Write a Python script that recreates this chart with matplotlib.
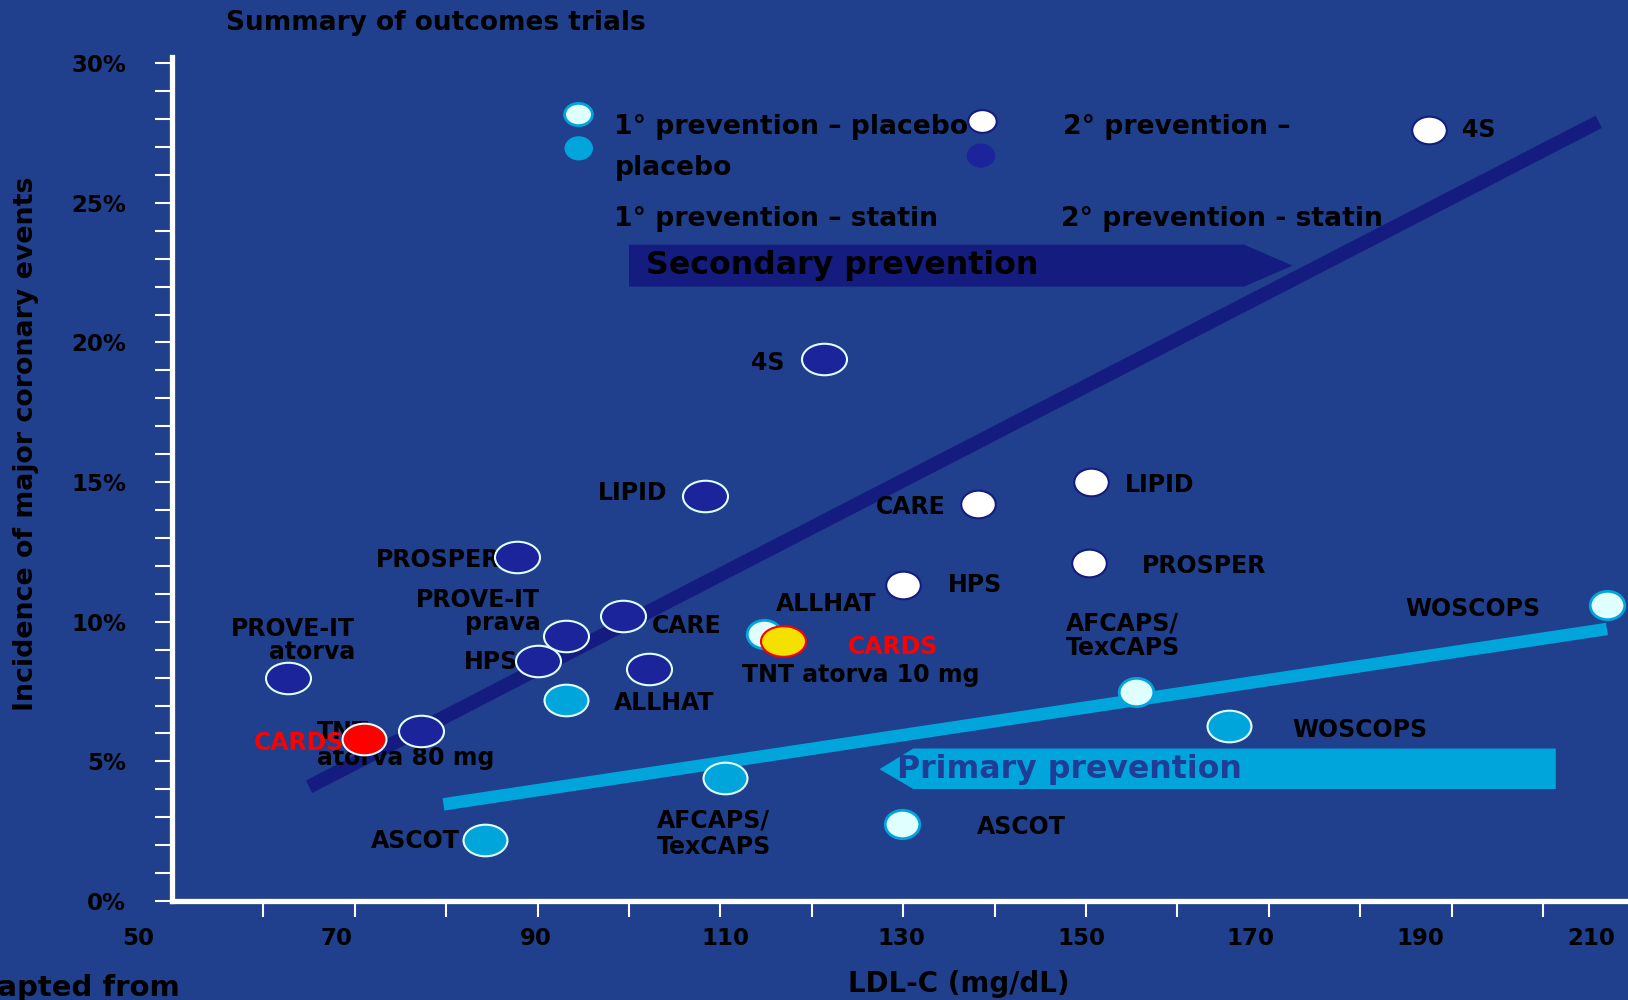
import matplotlib
matplotlib.use("Agg")
import matplotlib.pyplot as plt
from matplotlib.path import Path
from matplotlib.patches import Polygon
from matplotlib.transforms import Affine2D

# LDL-C (mg/dL) and incidence of major coronary events (%)
sec_statin_names = ["4S", "LIPID", "PROSPER", "CARE", "HPS", "PROVE-IT prava",
                    "TNT atorva 10 mg", "PROVE-IT atorva", "TNT atorva 80 mg"]
sec_statin_ldl = [121.3, 108.3, 87.7, 99.3, 90.0, 93.1, 102.2, 62.7, 77.2]
sec_statin_evt = [19.4, 14.5, 12.3, 10.2, 8.6, 9.5, 8.3, 8.0, 6.1]

sec_placebo_names = ["4S", "LIPID", "CARE", "HPS", "PROSPER"]
sec_placebo_ldl = [187.5, 150.6, 138.2, 130.0, 150.3]
sec_placebo_evt = [27.6, 15.0, 14.2, 11.3, 12.1]

pri_placebo_names = ["WOSCOPS", "AFCAPS/TexCAPS", "ASCOT", "ALLHAT"]
pri_placebo_ldl = [207.0, 155.5, 129.9, 114.8]
pri_placebo_evt = [10.6, 7.5, 2.75, 9.55]

pri_statin_names = ["WOSCOPS", "AFCAPS/TexCAPS", "ASCOT", "ALLHAT"]
pri_statin_ldl = [165.6, 110.5, 84.2, 93.1]
pri_statin_evt = [6.25, 4.4, 2.2, 7.2]

cards_names = ["CARDS placebo", "CARDS statin"]
cards_ldl = [116.9, 71.0]
cards_evt = [9.3, 5.8]

# fitted trend lines (end points)
sec_line_ldl = [65.0, 206.1]
sec_line_evt = [4.09, 27.9]
pri_line_ldl = [79.7, 207.0]
pri_line_evt = [3.46, 9.74]

x_ticks = [60, 70, 80, 90, 100, 110, 120, 130, 140, 150, 160, 170, 180, 190, 200]
x_tick_labels = ["50", "70", "90", "110", "130", "150", "170", "190", "210"]
y_ticks = [0, 5, 10, 15, 20, 25, 30]
y_tick_labels = ["0%", "5%", "10%", "15%", "20%", "25%", "30%"]

BG = "#203f8c"
NAVY = "#141c7f"
DARK = "#1b249b"
CYAN = "#00a5dc"
LIGHT = "#e0ffff"

fig = plt.figure(figsize=(16.28, 10), dpi=100, facecolor=BG)
ax = fig.add_axes([0.10565, 0.099, 0.89435, 0.844])
ax.set_facecolor(BG)
ax.set_xlim(50, 209.3)
ax.set_ylim(0, 30.22)

for s in ["top", "right"]:
    ax.spines[s].set_visible(False)
for s in ["left", "bottom"]:
    ax.spines[s].set_color("white")
    ax.spines[s].set_linewidth(3.8)

ax.set_xticks(x_ticks)
ax.set_xticklabels([])
ax.tick_params(axis="x", length=11.5, width=1.5, color="white", direction="out")
ax.set_yticks(y_ticks)
ax.set_yticklabels(y_tick_labels, fontsize=16.5, fontweight="bold")
ax.set_yticks(range(0, 31), minor=True)
ax.tick_params(axis="y", which="both", length=12, width=1.5, color="white",
               direction="out", pad=21)

lab_x = [46.3, 68.0, 89.8, 110.5, 129.8, 149.5, 168.0, 186.6, 205.3]
for xl, t in zip(lab_x, x_tick_labels):
    ax.text(xl, -1.35, t, ha="center", va="center", fontsize=16.5,
            fontweight="bold", clip_on=False)

# trend lines
ax.plot(sec_line_ldl, sec_line_evt, color=NAVY, lw=10, solid_capstyle="butt", zorder=2)
ax.plot(pri_line_ldl, pri_line_evt, color=CYAN, lw=9, solid_capstyle="butt", zorder=2)

# arrows
ax.add_patch(Polygon([(100.0, 23.5), (167.3, 23.5), (172.6, 22.75), (167.3, 22.0),
                      (100.0, 22.0)], closed=True, fc=NAVY, ec="none", zorder=1))
ax.text(101.9, 22.75, "Secondary prevention", fontsize=22.8, fontweight="bold",
        color="black", va="center", ha="left", zorder=3)
ax.add_patch(Polygon([(127.4, 4.72), (131.1, 5.46), (201.4, 5.46), (201.4, 4.01),
                      (131.1, 4.01)], closed=True, fc=CYAN, ec="none", zorder=1))
ax.text(129.3, 4.72, "Primary prevention", fontsize=22.8, fontweight="bold",
        color="#1f3c96", va="center", ha="left", zorder=3)


def ell(r):
    return Path.unit_circle().transformed(Affine2D().scale(1.0, r))


ax.scatter(sec_statin_ldl, sec_statin_evt, s=1050, marker=ell(0.7), fc=DARK,
           ec=LIGHT, lw=1.5, zorder=5)
ax.scatter(sec_placebo_ldl, sec_placebo_evt, s=620, marker=ell(0.8), fc="white",
           ec=NAVY, lw=1.5, zorder=5)
ax.scatter(pri_placebo_ldl, pri_placebo_evt, s=620, marker=ell(0.82), fc=LIGHT,
           ec=CYAN, lw=2, zorder=5)
ax.scatter(pri_statin_ldl, pri_statin_evt, s=1000, marker=ell(0.72), fc=CYAN,
           ec=LIGHT, lw=1.5, zorder=5)
ax.scatter(cards_ldl[:1], cards_evt[:1], s=1050, marker=ell(0.68), fc="#f5e100",
           ec="red", lw=1.5, zorder=6)
ax.scatter(cards_ldl[1:], cards_evt[1:], s=1000, marker=ell(0.72), fc="red",
           ec=LIGHT, lw=1.5, zorder=6)

# point labels
lab = dict(fontsize=17, fontweight="bold", color="black", va="center", zorder=4)
red = dict(fontsize=17, fontweight="bold", color="red", va="center", zorder=7)
ax.text(113.3, 19.25, "4S", ha="left", **lab)
ax.text(96.6, 14.6, "LIPID", ha="left", **lab)
ax.text(72.3, 12.2, "PROSPER", ha="left", **lab)
ax.text(90.3, 10.37, "PROVE-IT\nprava", ha="right", multialignment="right",
        linespacing=0.97, **lab)
ax.text(102.5, 9.85, "CARE", ha="left", **lab)
ax.text(81.9, 8.55, "HPS", ha="left", **lab)
ax.text(70.0, 9.33, "PROVE-IT\natorva", ha="right", multialignment="right",
        linespacing=0.93, **lab)
ax.text(65.9, 5.6, "TNT\natorva 80 mg", ha="left", linespacing=1.1, **lab)
ax.text(59.0, 5.65, "CARDS", ha="left", **red)
ax.text(98.4, 7.1, "ALLHAT", ha="left", **lab)
ax.text(71.8, 2.15, "ASCOT", ha="left", **lab)
ax.text(103.1, 2.42, "AFCAPS/\nTexCAPS", ha="left", linespacing=1.12, **lab)
ax.text(116.1, 10.63, "ALLHAT", ha="left", **lab)
ax.text(123.9, 9.1, "CARDS", ha="left", **red)
ax.text(112.4, 8.1, "TNT atorva 10 mg", ha="left", **lab)
ax.text(127.0, 14.1, "CARE", ha="left", **lab)
ax.text(134.9, 11.3, "HPS", ha="left", **lab)
ax.text(154.2, 14.9, "LIPID", ha="left", **lab)
ax.text(156.1, 12.0, "PROSPER", ha="left", **lab)
ax.text(147.8, 9.5, "AFCAPS/\nTexCAPS", ha="left", linespacing=1.05, **lab)
ax.text(184.9, 10.45, "WOSCOPS", ha="left", **lab)
ax.text(172.6, 6.13, "WOSCOPS", ha="left", **lab)
ax.text(138.1, 2.64, "ASCOT", ha="left", **lab)
ax.text(191.1, 27.6, "4S", ha="left", **lab)

# legend (hand placed, as in the slide)
ax.scatter([94.4], [28.18], s=400, marker=ell(0.8), fc=LIGHT, ec=CYAN, lw=2, zorder=5)
ax.scatter([94.5], [26.95], s=420, marker=ell(0.85), fc=CYAN, ec="none", zorder=5)
ax.scatter([138.6], [27.92], s=420, marker=ell(0.8), fc="white", ec=NAVY, lw=1.5, zorder=5)
ax.scatter([138.5], [26.69], s=420, marker=ell(0.85), fc=DARK, ec="none", zorder=5)
leg = dict(fontsize=19.2, fontweight="bold", color="black", va="center", ha="left", zorder=4)
ax.text(98.4, 27.73, "1° prevention – placebo", **leg)
ax.text(98.4, 26.25, "placebo", **leg)
ax.text(98.4, 24.42, "1° prevention – statin", **leg)
ax.text(147.5, 27.73, "2° prevention –", **leg)
ax.text(147.3, 24.42, "2° prevention - statin", **leg)

fig.text(0.139, 0.977, "Summary of outcomes trials", fontsize=19, fontweight="bold",
         ha="left", va="center")
fig.text(0.016, 0.556, "Incidence of major coronary events", fontsize=19.3,
         fontweight="bold", rotation=90, ha="center", va="center")
fig.text(0.589, 0.016, "LDL-C (mg/dL)", fontsize=20, fontweight="bold",
         ha="center", va="center")
fig.text(0.1105, 0.012, "Adapted from", fontsize=21, fontweight="bold",
         ha="right", va="center")

fig.savefig("out.png", dpi=100, facecolor=BG)
